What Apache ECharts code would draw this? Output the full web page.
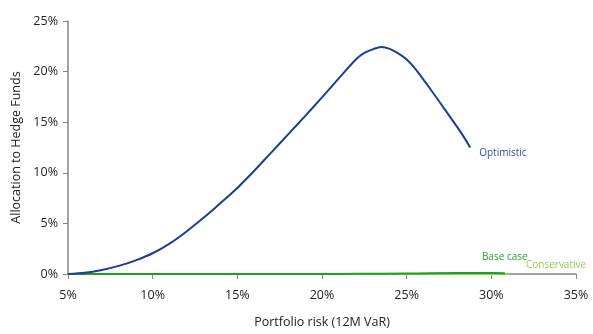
<!DOCTYPE html>
<html><head><meta charset="utf-8">
<script src="https://cdn.jsdelivr.net/npm/echarts@6/dist/echarts.min.js"></script>
<style>html,body{margin:0;padding:0;background:#fff;overflow:hidden}#c{width:593px;height:334px}</style>
</head><body><div id="c"></div>
<script>
// Portfolio risk (12M VaR, %) vs allocation to hedge funds (%)
const optimisticX = [5, 6, 7, 8, 9, 10, 11, 12, 13, 14, 15, 16, 17, 18, 19, 20, 21, 22, 22.5, 23, 23.5, 24, 24.5, 25, 25.5, 26.3, 27.3, 28.25, 28.75];
const optimisticY = [0, 0.12, 0.4, 0.8, 1.35, 2.05, 3.0, 4.2, 5.55, 7.0, 8.5, 10.2, 12.0, 13.8, 15.6, 17.45, 19.35, 21.2, 21.85, 22.2, 22.43, 22.25, 21.8, 21.2, 20.3, 18.5, 16.15, 13.87, 12.5];
const baseX = [5, 10, 15, 20, 22, 25, 28, 30, 30.8];
const baseY = [0, 0, 0, 0, 0.02, 0.05, 0.1, 0.1, 0.08];
const consX = [5, 15, 25, 31.1];
const consY = [0, 0, 0, 0];
const xTicks = { min: 5, max: 35, step: 5 };
const yTicks = { min: 0, max: 25, step: 5 };

const zip = (xs, ys) => xs.map((x, i) => [x, ys[i]]);
const font = 'Open Sans';
const chart = echarts.init(document.getElementById('c'), null, { renderer: 'canvas' });
chart.setOption({
  animation: false,
  grid: { left: 68, right: 17, top: 21, bottom: 55 },
  xAxis: {
    type: 'value', min: xTicks.min, max: xTicks.max, interval: xTicks.step,
    name: 'Portfolio risk (12M VaR)', nameLocation: 'middle', nameGap: 42,
    nameTextStyle: { fontFamily: font, fontSize: 12.5, color: '#222' },
    axisLine: { lineStyle: { color: '#868686', width: 1.5 } },
    axisTick: { show: true, length: 5, lineStyle: { color: '#868686' } },
    axisLabel: { formatter: '{value}%', fontFamily: font, fontSize: 12.5, color: '#222', margin: 15 },
    splitLine: { show: false }
  },
  yAxis: {
    type: 'value', min: yTicks.min, max: yTicks.max, interval: yTicks.step,
    name: 'Allocation to Hedge Funds', nameLocation: 'middle', nameGap: 43,
    nameTextStyle: { fontFamily: font, fontSize: 12.5, color: '#222' },
    axisLine: { show: true, lineStyle: { color: '#868686', width: 1.5 } },
    axisTick: { show: true, length: 5, lineStyle: { color: '#868686' } },
    axisLabel: { formatter: '{value}%', fontFamily: font, fontSize: 12.5, color: '#222', margin: 10 },
    splitLine: { show: false }
  },
  series: [
    {
      name: 'Conservative', type: 'line', data: zip(consX, consY), showSymbol: false,
      lineStyle: { color: '#92d050', width: 2 }, itemStyle: { color: '#92d050' },
      endLabel: { show: true, formatter: '{a}', color: '#92d050', fontFamily: font, fontSize: 10, distance: 16, offset: [0, -9] }
    },
    {
      name: 'Base case', type: 'line', data: zip(baseX, baseY), showSymbol: false, smooth: true,
      lineStyle: { color: '#1fa01f', width: 2 }, itemStyle: { color: '#1fa01f' },
      endLabel: { show: true, formatter: '{a}', color: '#2aa52a', fontFamily: font, fontSize: 10, distance: 5, offset: [-28, -16] }
    },
    {
      name: 'Optimistic', type: 'line', data: zip(optimisticX, optimisticY), showSymbol: false, smooth: 0.3,
      lineStyle: { color: '#1c3f94', width: 2 }, itemStyle: { color: '#1c3f94' },
      endLabel: { show: true, formatter: '{a}', color: '#2d51a8', fontFamily: font, fontSize: 10, distance: 9, offset: [0, 6] }
    }
  ]
});
</script></body></html>
